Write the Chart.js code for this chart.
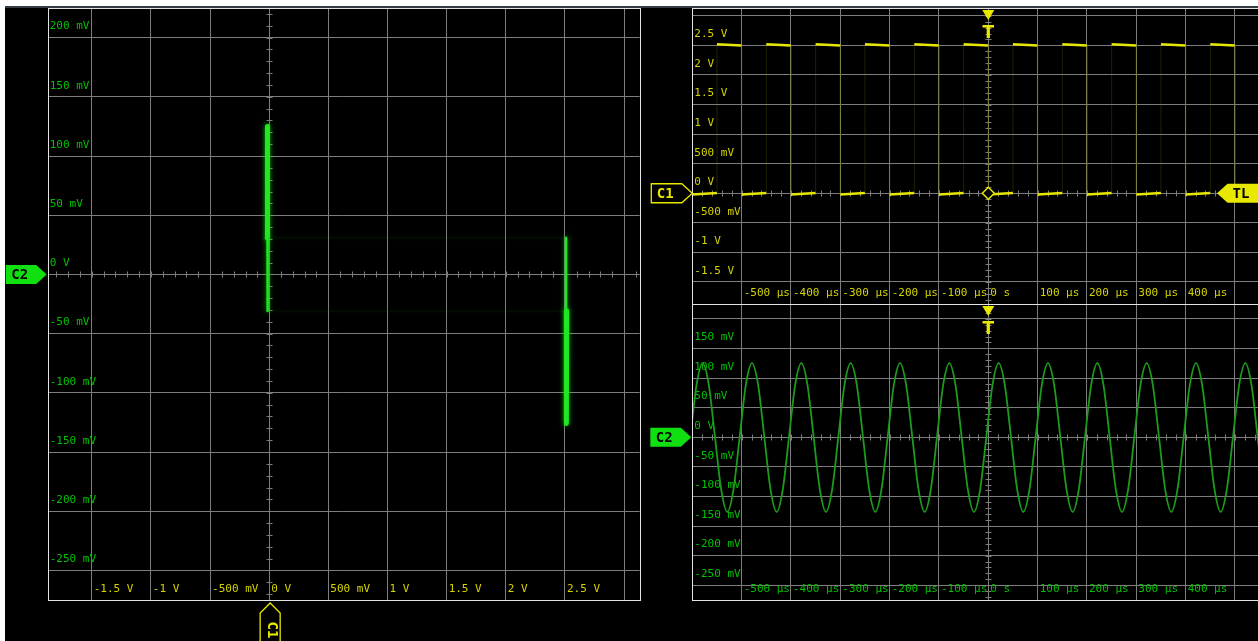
<!DOCTYPE html>
<html>
<head>
<meta charset="utf-8">
<title>Scope XY view</title>
<script src="https://cdn.jsdelivr.net/npm/chart.js@4.4.1/dist/chart.umd.min.js"></script>
<style>
  html, body { margin: 0; padding: 0; width: 1258px; height: 641px; overflow: hidden; background: #fff; }
  #screen { position: absolute; left: 5px; top: 6px; right: 0; bottom: 0; background: #000; border-top: 2px solid #353b42; }
  canvas { position: absolute; }
</style>
</head>
<body>
<div id="screen"></div>
<canvas id="xyChart" width="645" height="641" style="left:0;top:0"></canvas>
<canvas id="c1Chart" width="700" height="310" style="left:645px;top:0"></canvas>
<canvas id="c2Chart" width="700" height="343" style="left:645px;top:298px"></canvas>
<script>
// ---- data ----

// XY trace: C1 (volts) on x, C2 (millivolts) on y, one period in time order
const xyC1Volts = [-0.016, -0.015, -0.014, -0.013, 2.515, 2.513, 2.511, 2.51, -0.016];
const xyC2MilliVolts = [31, 125, 31, -31, -31, -126, -31, 31, 31];

// C1 square wave (time in µs, level in V), two points per flat part
const c1TimeUs = [
  -600, -550, -550, -500, -500, -450, -450, -400, -400, -350, -350, -300,
  -300, -250, -250, -200, -200, -150, -150, -100, -100, -50, -50, 0,
  0, 50, 50, 100, 100, 150, 150, 200, 200, 250, 250, 300,
  300, 350, 350, 400, 400, 450, 450, 500, 500, 550, 550, 600
];
const c1Volts = [
  -0.02, 0.005, 2.52, 2.5, -0.02, 0.005, 2.52, 2.5, -0.02, 0.005, 2.52, 2.5,
  -0.02, 0.005, 2.52, 2.5, -0.02, 0.005, 2.52, 2.5, -0.02, 0.005, 2.52, 2.5,
  -0.02, 0.005, 2.52, 2.5, -0.02, 0.005, 2.52, 2.5, -0.02, 0.005, 2.52, 2.5,
  -0.02, 0.005, 2.52, 2.5, -0.02, 0.005, 2.52, 2.5, -0.02, 0.005, 2.52, 2.5
];

// C2 sine (time in µs, level in mV), eighth-period samples
const c2TimeUs = [
  -604, -591.5, -579, -566.5, -554, -541.5, -529, -516.5,
  -504, -491.5, -479, -466.5, -454, -441.5, -429, -416.5,
  -404, -391.5, -379, -366.5, -354, -341.5, -329, -316.5,
  -304, -291.5, -279, -266.5, -254, -241.5, -229, -216.5,
  -204, -191.5, -179, -166.5, -154, -141.5, -129, -116.5,
  -104, -91.5, -79, -66.5, -54, -41.5, -29, -16.5,
  -4, 8.5, 21, 33.5, 46, 58.5, 71, 83.5,
  96, 108.5, 121, 133.5, 146, 158.5, 171, 183.5,
  196, 208.5, 221, 233.5, 246, 258.5, 271, 283.5,
  296, 308.5, 321, 333.5, 346, 358.5, 371, 383.5,
  396, 408.5, 421, 433.5, 446, 458.5, 471, 483.5,
  496, 508.5, 521, 533.5, 546, 558.5, 571, 583.5,
  596
];
const c2MilliVolts = [
  0, 88, 125, 88, 0, -88, -126, -88,
  0, 88, 125, 88, 0, -88, -126, -88,
  0, 88, 125, 88, 0, -88, -126, -88,
  0, 88, 125, 88, 0, -88, -126, -88,
  0, 88, 125, 88, 0, -88, -126, -88,
  0, 88, 125, 88, 0, -88, -126, -88,
  0, 88, 125, 88, 0, -88, -126, -88,
  0, 88, 125, 88, 0, -88, -126, -88,
  0, 88, 125, 88, 0, -88, -126, -88,
  0, 88, 125, 88, 0, -88, -126, -88,
  0, 88, 125, 88, 0, -88, -126, -88,
  0, 88, 125, 88, 0, -88, -126, -88,
  0
];

// axis ranges (10 divisions each way)
const voltRange = [-1.872, 3.132];
const milliVoltRange = [-275, 225];
const timeRange = [-600, 600];

// tick values and labels
const voltTicks = [-1.5, -1, -0.5, 0, 0.5, 1, 1.5, 2, 2.5, 3];
const voltLabels = ['-1.5 V', '-1 V', '-500 mV', '0 V', '500 mV', '1 V', '1.5 V', '2 V', '2.5 V', ''];
const milliVoltTicks = [-250, -200, -150, -100, -50, 0, 50, 100, 150, 200];
const milliVoltLabelsXY = ['-250 mV', '-200 mV', '-150 mV', '-100 mV', '-50 mV', '0 V', '50 mV', '100 mV', '150 mV', '200 mV'];
const milliVoltLabelsC2 = ['-250 mV', '-200 mV', '-150 mV', '-100 mV', '-50 mV', '0 V', '50 mV', '100 mV', '150 mV', ''];
const timeTicks = [-500, -400, -300, -200, -100, 0, 100, 200, 300, 400, 500];
const timeLabels = ['-500 µs', '-400 µs', '-300 µs', '-200 µs', '-100 µs', '0 s', '100 µs', '200 µs', '300 µs', '400 µs', ''];

// ---- look ----
const SCREEN_W = 1258;
const gridColor = '#7d7d7d';
const frameColor = '#e4e4e4';
const green = '#00c200';
const yellow = '#d4d400';
const markYellow = '#e8e800';
const markGreen = '#10e010';
const tickFont = { family: 'DejaVu Sans Mono', size: 11 };
const markFont = 'bold 14px "DejaVu Sans Mono"';

function pairUp(xs, ys) {
    return xs.map((v, i) => ({ x: v, y: ys[i] }));
}

function axisX(range, ticks, labels, color) {
    return {
        type: 'linear', position: 'bottom', bounds: 'data',
        min: range[0], max: range[1],
        afterFit: s => { s.height = 0; s.paddingLeft = s.paddingRight = s.paddingTop = s.paddingBottom = 0; },
        afterBuildTicks: s => { s.ticks = ticks.map(v => ({ value: v })); },
        grid: { color: gridColor, lineWidth: 1, drawTicks: false },
        border: { display: false },
        ticks: {
            mirror: true, align: 'start', labelOffset: 2, padding: 4,
            autoSkip: false, maxRotation: 0, minRotation: 0,
            color, font: tickFont,
            callback: (v, i) => labels[i]
        }
    };
}

function axisY(range, ticks, labels, color) {
    return {
        type: 'linear', position: 'left', bounds: 'data',
        min: range[0], max: range[1],
        afterFit: s => { s.width = 0; s.paddingLeft = s.paddingRight = s.paddingTop = s.paddingBottom = 0; },
        afterBuildTicks: s => { s.ticks = ticks.map(v => ({ value: v })); },
        grid: { color: gridColor, lineWidth: 1, drawTicks: false },
        border: { display: false },
        ticks: {
            mirror: true, labelOffset: -11, padding: 2,
            autoSkip: false, color, font: tickFont,
            callback: (v, i) => labels[i]
        }
    };
}

function scopeOptions(padding, x, y) {
    return {
        responsive: false, animation: false, devicePixelRatio: 1, events: [],
        layout: { padding },
        plugins: { legend: { display: false }, tooltip: { enabled: false } },
        scales: { x, y }
    };
}

// minor ticks along the two zero lines
function drawMinorTicks(chart, stepX, stepY) {
    const { ctx, chartArea: a, scales: { x, y } } = chart;
    const x0 = Math.round(x.getPixelForValue(0)) + 0.5;
    const y0 = Math.round(y.getPixelForValue(0)) + 0.5;
    ctx.save();
    ctx.strokeStyle = gridColor;
    ctx.lineWidth = 1;
    ctx.beginPath();
    for (let k = Math.ceil(x.min / stepX); k * stepX <= x.max; k++) {
        const px = Math.round(x.getPixelForValue(k * stepX)) + 0.5;
        if (px < a.left || px > a.right) continue;
        ctx.moveTo(px, y0 - 3); ctx.lineTo(px, y0 + 3);
    }
    for (let k = Math.ceil(y.min / stepY); k * stepY <= y.max; k++) {
        const py = Math.round(y.getPixelForValue(k * stepY)) + 0.5;
        if (py < a.top || py > a.bottom) continue;
        ctx.moveTo(x0 - 3, py); ctx.lineTo(x0 + 3, py);
    }
    ctx.stroke();
    ctx.restore();
}

function paintFlag(ctx, color, filled) {
    if (filled) {
        ctx.fillStyle = color; ctx.fill();
    } else {
        ctx.fillStyle = '#000'; ctx.fill();
        ctx.strokeStyle = color; ctx.lineWidth = 1.3; ctx.stroke();
    }
}

function flagRight(ctx, tipX, y, text, color, filled) {
    ctx.save();
    ctx.beginPath();
    ctx.moveTo(tipX - 41, y - 9.5);
    ctx.lineTo(tipX - 10.5, y - 9.5);
    ctx.lineTo(tipX, y);
    ctx.lineTo(tipX - 10.5, y + 9.5);
    ctx.lineTo(tipX - 41, y + 9.5);
    ctx.closePath();
    paintFlag(ctx, color, filled);
    ctx.fillStyle = filled ? '#000' : color;
    ctx.font = markFont; ctx.textAlign = 'center'; ctx.textBaseline = 'middle';
    ctx.fillText(text, tipX - 27, y + 1);
    ctx.restore();
}

function flagLeft(ctx, tipX, y, text, color) {
    ctx.save();
    ctx.beginPath();
    ctx.moveTo(tipX, y);
    ctx.lineTo(tipX + 10.5, y - 9.5);
    ctx.lineTo(tipX + 60, y - 9.5);
    ctx.lineTo(tipX + 60, y + 9.5);
    ctx.lineTo(tipX + 10.5, y + 9.5);
    ctx.closePath();
    paintFlag(ctx, color, true);
    ctx.fillStyle = '#000';
    ctx.font = markFont; ctx.textAlign = 'center'; ctx.textBaseline = 'middle';
    ctx.fillText(text, tipX + 24, y + 1);
    ctx.restore();
}

function flagUp(ctx, x, tipY, text, color) {
    ctx.save();
    ctx.beginPath();
    ctx.moveTo(x - 10, tipY + 60);
    ctx.lineTo(x - 10, tipY + 10);
    ctx.lineTo(x, tipY);
    ctx.lineTo(x + 10, tipY + 10);
    ctx.lineTo(x + 10, tipY + 60);
    paintFlag(ctx, color, false);
    ctx.translate(x + 1, tipY + 27);
    ctx.rotate(Math.PI / 2);
    ctx.fillStyle = color;
    ctx.font = markFont; ctx.textAlign = 'center'; ctx.textBaseline = 'middle';
    ctx.fillText(text, 0, 0);
    ctx.restore();
}

function triggerMark(ctx, x0, top) {
    ctx.save();
    ctx.fillStyle = markYellow;
    ctx.beginPath();
    ctx.moveTo(x0 - 6, top + 2);
    ctx.lineTo(x0 + 6, top + 2);
    ctx.lineTo(x0, top + 12);
    ctx.closePath();
    ctx.fill();
    ctx.font = 'bold 17px "DejaVu Sans"';
    ctx.textAlign = 'center';
    ctx.textBaseline = 'alphabetic';
    ctx.fillText('T', x0, top + 30);
    ctx.restore();
}

function scopePlugin(stepX, stepY, drawMarks) {
    return {
        id: 'scope',
        beforeDatasetsDraw(chart) {
            drawMinorTicks(chart, stepX, stepY);
        },
        beforeDatasetDraw(chart, args) {
            const ds = chart.data.datasets[args.index];
            chart.ctx.save();
            if (ds.glow) {
                chart.ctx.shadowColor = ds.glow;
                chart.ctx.shadowBlur = 5;
            }
        },
        afterDatasetDraw(chart) {
            chart.ctx.restore();
        },
        afterDraw(chart) {
            const { ctx, chartArea: a, scales: { x, y } } = chart;
            ctx.save();
            ctx.strokeStyle = frameColor;
            ctx.lineWidth = 1;
            ctx.strokeRect(Math.round(a.left) + 0.5, Math.round(a.top) + 0.5,
                Math.round(a.right - a.left), Math.round(a.bottom - a.top));
            ctx.restore();
            drawMarks(ctx, x, y, a, chart);
        }
    };
}

// ---- XY view (C1 on x, C2 on y) ----
const xyEdge = c => Math.abs(c.p1.parsed.x - c.p0.parsed.x) > 1;
new Chart(document.getElementById('xyChart'), {
    type: 'scatter',
    data: {
        datasets: [{
            data: pairUp(xyC1Volts, xyC2MilliVolts),
            showLine: true, pointRadius: 0,
            borderColor: '#22e622', borderWidth: 5,
            borderCapStyle: 'round', borderJoinStyle: 'round',
            glow: 'rgba(0, 230, 0, 0.8)',
            segment: {
                borderColor: c => xyEdge(c) ? 'rgba(0, 140, 0, 0.14)' : undefined,
                borderWidth: c => xyEdge(c) ? 1 : (c.p0.parsed.y * c.p1.parsed.y < 0 ? 2.5 : undefined)
            }
        }]
    },
    options: scopeOptions(
        { left: 47.7, top: 8, right: 5.3, bottom: 41 },
        axisX(voltRange, voltTicks, voltLabels, yellow),
        axisY(milliVoltRange, milliVoltTicks, milliVoltLabelsXY, green)
    ),
    plugins: [scopePlugin(0.1, 10, (ctx, x, y, a) => {
        flagRight(ctx, a.left - 1, y.getPixelForValue(0), 'C2', markGreen, true);
        flagUp(ctx, x.getPixelForValue(0) + 1, a.bottom + 3, 'C1', markYellow);
    })]
});

// ---- C1 against time ----
const c1Edge = c => c.p0.parsed.x === c.p1.parsed.x;
new Chart(document.getElementById('c1Chart'), {
    type: 'scatter',
    data: {
        datasets: [{
            data: pairUp(c1TimeUs, c1Volts),
            showLine: true, pointRadius: 0,
            borderColor: '#e6e600', borderWidth: 2.5,
            segment: {
                borderColor: c => c1Edge(c) ? 'rgba(130, 130, 0, 0.25)' : undefined,
                borderWidth: c => c1Edge(c) ? 1 : undefined
            }
        }]
    },
    options: scopeOptions(
        { left: 47.3, top: 8, right: 60.7, bottom: 6 },
        axisX(timeRange, timeTicks, timeLabels, yellow),
        axisY(voltRange, voltTicks, voltLabels, yellow)
    ),
    plugins: [scopePlugin(20, 0.1, (ctx, x, y, a, chart) => {
        const x0 = x.getPixelForValue(0), y0 = y.getPixelForValue(0);
        flagRight(ctx, a.left, y0, 'C1', markYellow, false);
        flagLeft(ctx, SCREEN_W - chart.canvas.offsetLeft - 41, y0, 'TL', markYellow);
        triggerMark(ctx, x0, a.top);
        ctx.save();
        ctx.beginPath();
        ctx.moveTo(x0, y0 - 6); ctx.lineTo(x0 + 6, y0); ctx.lineTo(x0, y0 + 6); ctx.lineTo(x0 - 6, y0);
        ctx.closePath();
        ctx.fillStyle = '#000'; ctx.fill();
        ctx.strokeStyle = markYellow; ctx.lineWidth = 1.5; ctx.stroke();
        ctx.restore();
    })]
});

// ---- C2 against time ----
new Chart(document.getElementById('c2Chart'), {
    type: 'scatter',
    data: {
        datasets: [{
            data: pairUp(c2TimeUs, c2MilliVolts),
            showLine: true, pointRadius: 0,
            borderColor: 'rgb(28, 155, 28)', borderWidth: 1.8,
            cubicInterpolationMode: 'monotone'
        }]
    },
    options: scopeOptions(
        { left: 47.3, top: 6, right: 60.7, bottom: 41 },
        axisX(timeRange, timeTicks, timeLabels, green),
        axisY(milliVoltRange, milliVoltTicks, milliVoltLabelsC2, green)
    ),
    plugins: [scopePlugin(20, 10, (ctx, x, y, a) => {
        flagRight(ctx, a.left - 1, y.getPixelForValue(0), 'C2', markGreen, true);
        triggerMark(ctx, x.getPixelForValue(0), a.top);
    })]
});
</script>
</body>
</html>
